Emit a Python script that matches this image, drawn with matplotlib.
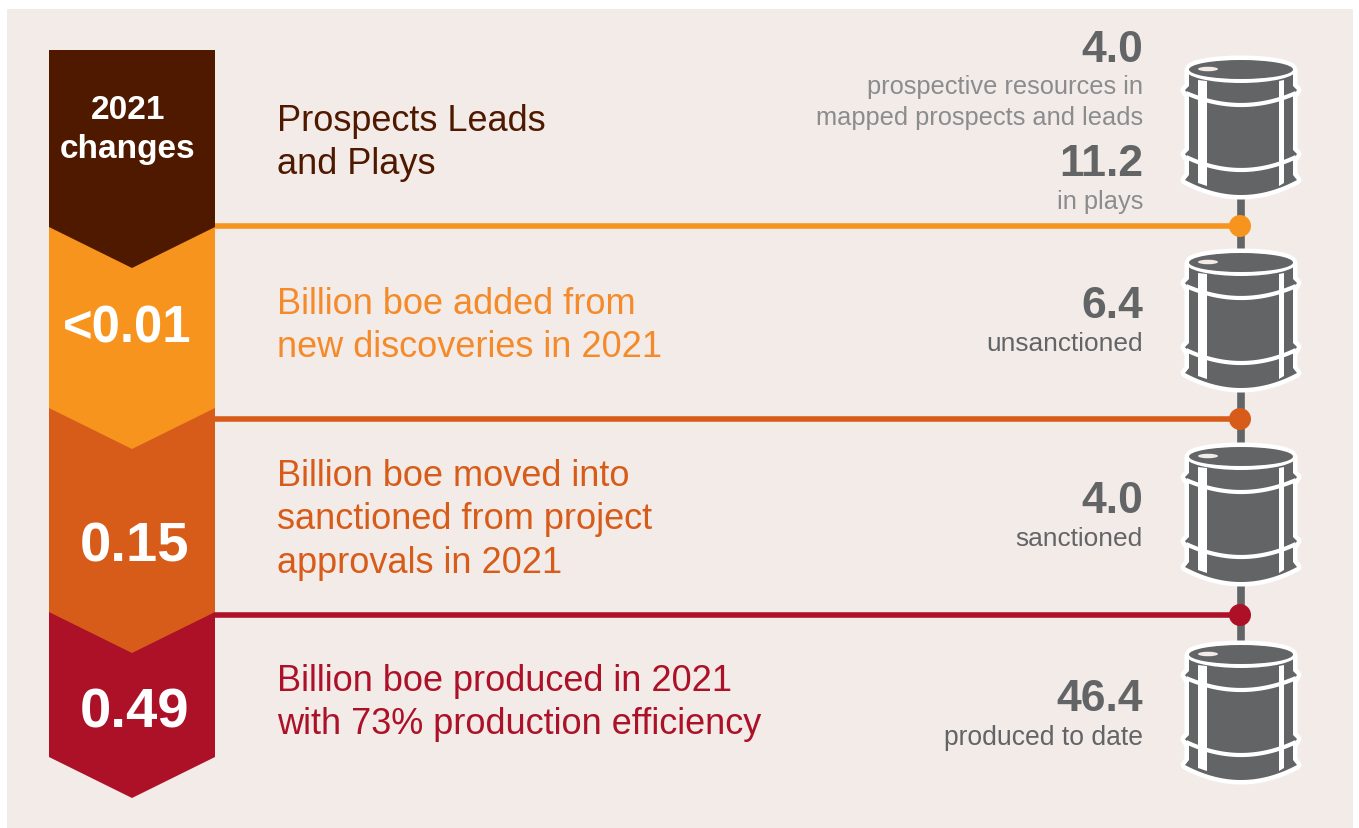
import numpy as np
import matplotlib
matplotlib.use('Agg')
import matplotlib.pyplot as plt
from matplotlib.patches import Polygon, Circle, Ellipse, Rectangle

# chart content
change_labels = ['2021\nchanges', '<0.01', '0.15', '0.49']
stage_labels = ['Prospects Leads\nand Plays',
                'Billion boe added from\nnew discoveries in 2021',
                'Billion boe moved into\nsanctioned from project\napprovals in 2021',
                'Billion boe produced in 2021\nwith 73% production efficiency']
barrel_values = ['4.0', '11.2', '6.4', '4.0', '46.4']
barrel_notes = ['prospective resources in\nmapped prospects and leads', 'in plays',
                'unsanctioned', 'sanctioned', 'produced to date']

# layout, in pixels of the original picture
colors = ['#4f1900', '#f7941e', '#d85c19', '#ad1128']
text_colors = ['#4f1900', '#f58a2a', '#d85c19', '#ad1128']
bg = '#f2ebe8'
grey = '#636466'
shoulder_top = [50, 227, 408, 612]
shoulder_bottom = [227, 408, 612, 757]
label_y = [142, 325, 519, 702]
number_y = [129, 328, 547, 713]
line_y = [226, 419, 615]
barrel_tops = [57, 250, 444, 642]
value_y = [49, 164, 306, 501, 699]
note_y = [101.5, 201, 343, 538, 737]
note_sizes = [18.3, 18.3, 18.9, 18.9, 19.1]

fig = plt.figure(figsize=(13.59, 8.29), dpi=100)
ax = fig.add_axes([0, 0, 1, 1])
ax.set_xlim(0, 1359)
ax.set_ylim(828, -1)
ax.axis('off')

ax.add_patch(Rectangle((7, 9), 1346, 819, fc=bg, ec='none', zorder=0))


def draw_barrel(cx, top):
    t = np.linspace(-1, 1, 60)
    w = 52
    # silhouette with the three hoop tips, white edge gives the outline
    arc_top = [(cx + w * a, top + 13 - 10 * np.sqrt(1 - a ** 2)) for a in t]
    right = [(cx + w, top + 29), (cx + 56, top + 33), (cx + w, top + 39),
             (cx + w, top + 93), (cx + 56, top + 97), (cx + w, top + 103),
             (cx + w, top + 118), (cx + 56, top + 123)]
    arc_bot = [(cx - 56 * a, top + 123 + 15 * (1 - a ** 2)) for a in t]
    left = [(2 * cx - x, y) for x, y in reversed(right)]
    ax.add_patch(Polygon(arc_top + right + arc_bot + left, fc=grey, ec='white', lw=6.5,
                         joinstyle='round', zorder=4))
    ax.add_patch(Polygon(arc_top + right + arc_bot + left, fc=grey, ec='none', zorder=5))
    # hoops
    for side, depth in ((36, 12), (100, 13)):
        ax.plot(cx + 55 * t, top + side + depth * (1 - t ** 2), color='white', lw=3, zorder=6,
                solid_capstyle='butt')
    # vertical straps
    ax.add_patch(Polygon([(cx - 43, top + 23), (cx - 34, top + 24), (cx - 34, top + 129), (cx - 43, top + 126)],
                         fc='white', ec='none', zorder=7))
    ax.add_patch(Polygon([(cx + 38, top + 24), (cx + 43, top + 23), (cx + 43, top + 126), (cx + 38, top + 129)],
                         fc='white', ec='none', zorder=7))
    # top of the drum
    ax.add_patch(Ellipse((cx, top + 12.5), 112, 27, fc='white', ec='none', zorder=8))
    ax.add_patch(Ellipse((cx, top + 12.5), 104, 19, fc=grey, ec='none', zorder=9))
    ax.add_patch(Ellipse((cx - 33, top + 12), 20, 4.5, fc=bg, ec='none', zorder=10))


# connecting stem behind the barrels
ax.plot([1241, 1241], [190, 650], color=grey, lw=5.5, solid_capstyle='butt', zorder=1)

# chevrons, drawn bottom up so each tip lies over the next one
x0, x1, xm, tip = 49, 215, 132, 41
for i in range(3, -1, -1):
    pts = [(x0, shoulder_top[i]), (x1, shoulder_top[i]), (x1, shoulder_bottom[i]),
           (xm, shoulder_bottom[i] + tip), (x0, shoulder_bottom[i])]
    ax.add_patch(Polygon(pts, fc=colors[i], ec='none', zorder=2 + (3 - i) * 0.1))

# lines and dots
for i, y in enumerate(line_y):
    ax.plot([x1, 1240], [y, y], color=colors[i + 1], lw=4, solid_capstyle='butt', zorder=3)
    ax.add_patch(Circle((1240, y), 11, fc=colors[i + 1], ec='none', zorder=3))

for top in barrel_tops:
    draw_barrel(1241, top)

sans = ['Liberation Sans', 'DejaVu Sans']

ax.text(128, number_y[0], change_labels[0], color='white', fontsize=24, fontweight='bold', family=sans,
        ha='center', va='center', linespacing=1.33, zorder=12)
ax.text(127, number_y[1], change_labels[1], color='white', fontsize=36.5, fontweight='bold', family=sans,
        ha='center', va='center', zorder=12)
ax.text(134.5, number_y[2], change_labels[2], color='white', fontsize=40.5, fontweight='bold', family=sans,
        ha='center', va='center', zorder=12)
ax.text(134.5, number_y[3], change_labels[3], color='white', fontsize=40.5, fontweight='bold', family=sans,
        ha='center', va='center', zorder=12)

for lab, y, c in zip(stage_labels, label_y, text_colors):
    ax.text(277, y, lab, color=c, fontsize=26, family=sans,
            ha='left', va='center', linespacing=1.31, zorder=12)

for val, y in zip(barrel_values, value_y):
    ax.text(1143, y, val, color=grey, fontsize=32, fontweight='bold', family=sans,
            ha='right', va='center', zorder=12)
for note, y, c, s in zip(barrel_notes, note_y, ['#8b8c8e', '#8b8c8e', grey, grey, grey], note_sizes):
    ax.text(1143, y, note, color=c, fontsize=s, family=sans,
            ha='right', va='center', linespacing=1.33, zorder=12)

fig.savefig('out.png', dpi=100, facecolor='white')
